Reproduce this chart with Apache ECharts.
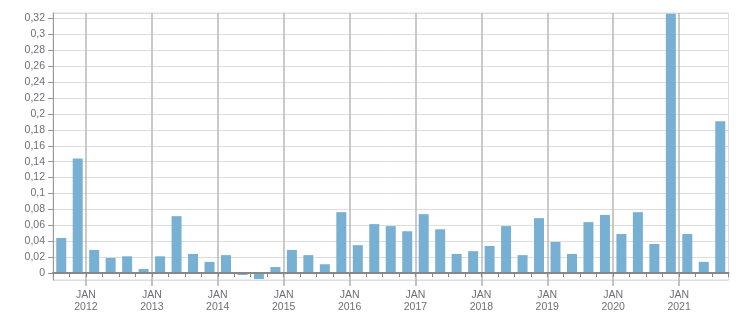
<!DOCTYPE html>
<html>
<head>
<meta charset="utf-8">
<script src="https://cdn.jsdelivr.net/npm/echarts@6/dist/echarts.min.js"></script>
<style>
html,body{margin:0;padding:0;background:#fff;}
#chart{width:751px;height:313px;}
</style>
</head>
<body>
<div id="chart"></div>
<script>
// Quarterly categories, Q3 2011 .. Q3 2021
const quarters = [
  "2011 Q3","2011 Q4",
  "2012 Q1","2012 Q2","2012 Q3","2012 Q4",
  "2013 Q1","2013 Q2","2013 Q3","2013 Q4",
  "2014 Q1","2014 Q2","2014 Q3","2014 Q4",
  "2015 Q1","2015 Q2","2015 Q3","2015 Q4",
  "2016 Q1","2016 Q2","2016 Q3","2016 Q4",
  "2017 Q1","2017 Q2","2017 Q3","2017 Q4",
  "2018 Q1","2018 Q2","2018 Q3","2018 Q4",
  "2019 Q1","2019 Q2","2019 Q3","2019 Q4",
  "2020 Q1","2020 Q2","2020 Q3","2020 Q4",
  "2021 Q1","2021 Q2","2021 Q3"
];
const values = [
  0.044, 0.144,
  0.029, 0.019, 0.021, 0.005,
  0.021, 0.0715, 0.024, 0.014,
  0.0225, -0.0025, -0.0075, 0.0075,
  0.029, 0.0225, 0.011, 0.0765,
  0.035, 0.0615, 0.059, 0.0525,
  0.074, 0.055, 0.024, 0.0275,
  0.034, 0.059, 0.0225, 0.069,
  0.039, 0.024, 0.064, 0.073,
  0.049, 0.0765, 0.0365, 0.326,
  0.049, 0.014, 0.191
];
// Quarter boundaries (start of each quarter plus the end), for the date axis
const boundaries = [
  "Jul 2011","Oct 2011",
  "Jan 2012","Apr 2012","Jul 2012","Oct 2012",
  "Jan 2013","Apr 2013","Jul 2013","Oct 2013",
  "Jan 2014","Apr 2014","Jul 2014","Oct 2014",
  "Jan 2015","Apr 2015","Jul 2015","Oct 2015",
  "Jan 2016","Apr 2016","Jul 2016","Oct 2016",
  "Jan 2017","Apr 2017","Jul 2017","Oct 2017",
  "Jan 2018","Apr 2018","Jul 2018","Oct 2018",
  "Jan 2019","Apr 2019","Jul 2019","Oct 2019",
  "Jan 2020","Apr 2020","Jul 2020","Oct 2020",
  "Jan 2021","Apr 2021","Jul 2021","Oct 2021"
];
const yMin = -0.0088, yMax = 0.327, yStep = 0.02;

const isJan = (name) => String(name).indexOf("Jan") === 0;
const font = "'Liberation Sans', Arial, sans-serif";
const labelColor = "#6e6e78";

const chart = echarts.init(document.getElementById('chart'), null, {renderer: 'canvas'});
chart.setOption({
  animation: false,
  backgroundColor: '#ffffff',
  grid: {left: 53, right: 22.5, top: 13, bottom: 32, show: true, borderColor: '#dddddd', borderWidth: 1, backgroundColor: 'transparent'},
  xAxis: [
    {
      type: 'category',
      data: quarters,
      boundaryGap: true,
      position: 'bottom',
      axisLine: {show: true, lineStyle: {color: '#888888', width: 2}},
      axisTick: {show: true, interval: 0, length: 4, lineStyle: {color: '#888888', width: 1}},
      axisLabel: {show: false},
      splitLine: {show: false},
      z: 5
    },
    {
      type: 'category',
      data: boundaries,
      boundaryGap: false,
      position: 'bottom',
      axisLine: {show: false},
      axisTick: {show: true, length: 6, interval: (i, v) => isJan(v), lineStyle: {color: '#b0b0b0', width: 1.5}},
      axisLabel: {
        show: true,
        interval: (i, v) => isJan(v),
        formatter: (v) => isJan(v) ? 'JAN\n' + v.slice(4) : '',
        color: labelColor, fontFamily: font, fontSize: 10.5, lineHeight: 12, margin: 9
      },
      splitLine: {show: true, interval: (i, v) => isJan(v), lineStyle: {color: '#b8b8b8', width: 1.5}}
    }
  ],
  yAxis: {
    type: 'value',
    min: yMin,
    max: yMax,
    splitNumber: 16,
    minInterval: yStep,
    maxInterval: yStep,
    axisLine: {show: true, lineStyle: {color: '#999999', width: 1}},
    axisTick: {show: true, length: 5, lineStyle: {color: '#999999'}},
    axisLabel: {
      showMinLabel: false, showMaxLabel: false,
      color: labelColor, fontFamily: font, fontSize: 10.5, margin: 8,
      formatter: (v) => String(Math.round(v * 1000) / 1000).replace('.', ',')
    },
    splitLine: {show: true, lineStyle: {color: '#dddddd', width: 1}}
  },
  series: [{
    type: 'bar',
    xAxisIndex: 0,
    data: values,
    barWidth: 10,
    itemStyle: {color: '#77b0d3'}
  }]
});
</script>
</body>
</html>
